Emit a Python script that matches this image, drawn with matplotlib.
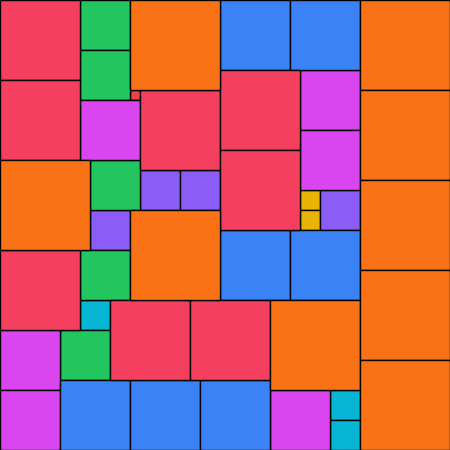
import matplotlib
matplotlib.use("Agg")
import matplotlib.pyplot as plt
from matplotlib.patches import Rectangle

# Partridge tiling: n squares of side n (n = 1..9) filling a 45 x 45 square
sizes = [1, 2, 3, 4, 5, 6, 7, 8, 9]
colors = ["#EF4444", "#EAB308", "#06B6D4", "#8B5CF6", "#22C55E",
          "#D946EF", "#3B82F6", "#F43F5E", "#F97316"]

pos_1 = [(13, 9)]
pos_2 = [(30, 19), (30, 21)]
pos_3 = [(8, 30), (33, 39), (33, 42)]
pos_4 = [(14, 17), (18, 17), (9, 21), (32, 19)]
pos_5 = [(8, 0), (8, 5), (9, 16), (8, 25), (6, 33)]
pos_6 = [(0, 33), (0, 39), (8, 10), (30, 7), (30, 13), (27, 39)]
pos_7 = [(22, 0), (29, 0), (22, 23), (29, 23), (6, 38), (13, 38), (20, 38)]
pos_8 = [(0, 0), (0, 8), (0, 25), (14, 9), (11, 30), (19, 30), (22, 7), (22, 15)]
pos_9 = [(0, 16), (13, 0), (13, 21), (27, 30), (36, 0), (36, 9), (36, 18), (36, 27), (36, 36)]
positions = [pos_1, pos_2, pos_3, pos_4, pos_5, pos_6, pos_7, pos_8, pos_9]

fig = plt.figure(figsize=(4.5, 4.5), dpi=100)
ax = fig.add_axes([0, 0, 1, 1])
for s, c, plist in zip(sizes, colors, positions):
    for (x, y) in plist:
        ax.add_patch(Rectangle((x, y), s, s, facecolor=c, edgecolor="black", linewidth=1.0))
ax.set_xlim(0, 45)
ax.set_ylim(45, 0)
ax.set_aspect("equal")
ax.axis("off")
fig.savefig("out.png", dpi=100)
